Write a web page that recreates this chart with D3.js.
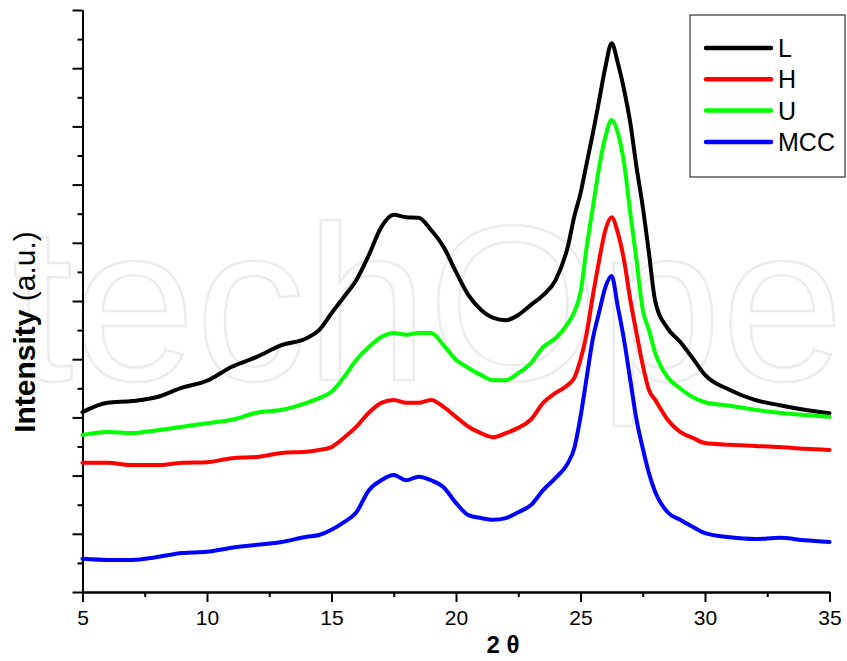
<!DOCTYPE html>
<html>
<head>
<meta charset="utf-8">
<script src="https://cdn.jsdelivr.net/npm/d3@7"></script>
<style>
  body { margin: 0; background: #fff; }
  svg { display: block; font-family: "Liberation Sans", Arial, sans-serif; }
</style>
</head>
<body>
<svg id="chart" width="847" height="661"></svg>
<script>
// 2 theta positions (deg) the curves were read at
const twoTheta = [5,6,7,8,9,10,11,12,13,14,14.5,15,15.5,16,16.5,17,17.5,18,18.5,19,19.5,20,20.5,21,21.5,22,22.5,23,23.5,24,24.5,
  24.75,25,25.25,25.5,25.75,26,26.25,26.5,26.75,27,27.25,27.5,27.75,28,28.5,29,29.5,30,31,32,33,34,35];

// intensities (a.u.)
const seriesL = [3.09,3.25,3.28,3.35,3.51,3.63,3.87,4.04,4.24,4.36,4.50,4.79,5.07,5.36,5.79,6.27,6.48,6.44,6.43,6.22,5.93,5.50,5.10,4.85,4.71,4.67,4.76,4.93,5.10,5.36,5.95,
  6.45,6.85,7.37,7.89,8.45,9.02,9.43,9.09,8.63,8.06,7.30,6.62,5.82,5.00,4.53,4.30,4.02,3.73,3.47,3.30,3.21,3.13,3.07];
const seriesH = [2.22,2.22,2.18,2.18,2.22,2.23,2.30,2.32,2.39,2.41,2.44,2.49,2.65,2.84,3.08,3.25,3.30,3.25,3.25,3.30,3.18,3.01,2.84,2.73,2.66,2.73,2.82,2.96,3.25,3.42,3.56,
  3.68,3.99,4.45,5.10,5.70,6.22,6.44,6.17,5.70,5.02,4.45,3.90,3.47,3.30,2.96,2.75,2.65,2.56,2.53,2.51,2.49,2.46,2.44];
const seriesU = [2.70,2.75,2.73,2.78,2.84,2.90,2.96,3.08,3.13,3.25,3.33,3.44,3.69,3.99,4.21,4.38,4.45,4.42,4.45,4.45,4.24,3.99,3.85,3.73,3.64,3.64,3.76,3.93,4.21,4.36,4.62,
  4.81,5.15,5.93,6.62,7.30,7.82,8.11,7.89,7.37,6.51,5.70,4.85,4.50,4.11,3.69,3.50,3.35,3.26,3.20,3.13,3.08,3.04,3.01];
const seriesMCC = [0.57,0.55,0.55,0.60,0.67,0.69,0.76,0.81,0.86,0.95,0.98,1.07,1.20,1.37,1.75,1.92,2.01,1.92,1.98,1.92,1.80,1.53,1.32,1.27,1.24,1.27,1.37,1.49,1.75,1.96,2.22,
  2.47,3.01,3.69,4.36,4.81,5.24,5.43,4.90,4.33,3.64,2.96,2.47,2.04,1.72,1.37,1.24,1.12,1.01,0.94,0.91,0.93,0.89,0.86];

const seriesNames = ["L", "H", "U", "MCC"];
const seriesColors = ["#000000", "#ff0000", "#00ff00", "#0000ff"];
const seriesValues = [seriesL, seriesH, seriesU, seriesMCC];

const xTicks = [5, 10, 15, 20, 25, 30, 35];

const svg = d3.select("#chart");
const plotLeft = 82.5, plotRight = 829.5, plotTop = 10, plotBottom = 592;

const x = d3.scaleLinear().domain([5, 35]).range([plotLeft, plotRight]);
const y = d3.scaleLinear().domain([0, 10]).range([plotBottom, plotTop]);

// faint watermark behind everything
svg.append("text")
  .attr("x", 12).attr("y", 380)
  .attr("font-size", 220)
  .attr("fill", "none")
  .attr("stroke", "#ececec")
  .attr("stroke-width", 2.5)
  .text("techOpe");

// x axis: majors labelled, minors halfway
const xAxis = d3.axisBottom(x).tickValues(xTicks).tickSize(10).tickSizeOuter(0).tickPadding(8);
const xMinor = d3.axisBottom(x).tickValues(d3.range(7.5, 35, 5)).tickSize(5).tickFormat("").tickSizeOuter(0);

const gx = svg.append("g").attr("transform", `translate(0,${plotBottom})`).call(xAxis);
svg.append("g").attr("transform", `translate(0,${plotBottom})`).call(xMinor);
gx.selectAll("text").attr("font-size", 21).attr("font-family", "Liberation Sans, Arial, sans-serif").attr("fill", "#000");

// y axis: no labels
const yAxis = d3.axisLeft(y).tickValues(d3.range(0, 10.01, 1)).tickSize(10).tickFormat("").tickSizeOuter(0);
const yMinor = d3.axisLeft(y).tickValues(d3.range(0.5, 10, 1)).tickSize(5).tickFormat("").tickSizeOuter(0);
svg.append("g").attr("transform", `translate(${plotLeft},0)`).call(yAxis);
svg.append("g").attr("transform", `translate(${plotLeft},0)`).call(yMinor);

svg.selectAll(".domain, .tick line").attr("stroke", "#000").attr("stroke-width", 2);

// axis titles
svg.append("text")
  .attr("x", 503).attr("y", 653)
  .attr("text-anchor", "middle")
  .attr("font-size", 24).attr("font-weight", "bold")
  .text("2 θ");

const yTitle = svg.append("text")
  .attr("transform", "translate(35,332) rotate(-90)")
  .attr("text-anchor", "middle")
  .attr("font-size", 30);
yTitle.append("tspan").attr("font-weight", "bold").text("Intensity");
yTitle.append("tspan").text(" (a.u.)");

// curves
const line = d3.line()
  .x((d) => x(d[0]))
  .y((d) => y(d[1]))
  .curve(d3.curveMonotoneX);

seriesValues.forEach((vals, i) => {
  svg.append("path")
    .datum(twoTheta.map((t, j) => [t, vals[j]]))
    .attr("fill", "none")
    .attr("stroke", seriesColors[i])
    .attr("stroke-width", 4)
    .attr("stroke-linejoin", "round")
    .attr("stroke-linecap", "round")
    .attr("d", line);
});

// legend
const legend = svg.append("g");
legend.append("rect")
  .attr("x", 690).attr("y", 15)
  .attr("width", 155).attr("height", 162)
  .attr("fill", "#fff")
  .attr("stroke", "#333").attr("stroke-width", 1.2);

seriesNames.forEach((name, i) => {
  const ly = 48 + i * 31.3;
  legend.append("line")
    .attr("x1", 706).attr("x2", 771)
    .attr("y1", ly).attr("y2", ly)
    .attr("stroke", seriesColors[i])
    .attr("stroke-width", 4.5)
    .attr("stroke-linecap", "round");
  legend.append("text")
    .attr("x", 778).attr("y", ly + 9)
    .attr("font-size", 25)
    .text(name);
});
</script>
</body>
</html>
